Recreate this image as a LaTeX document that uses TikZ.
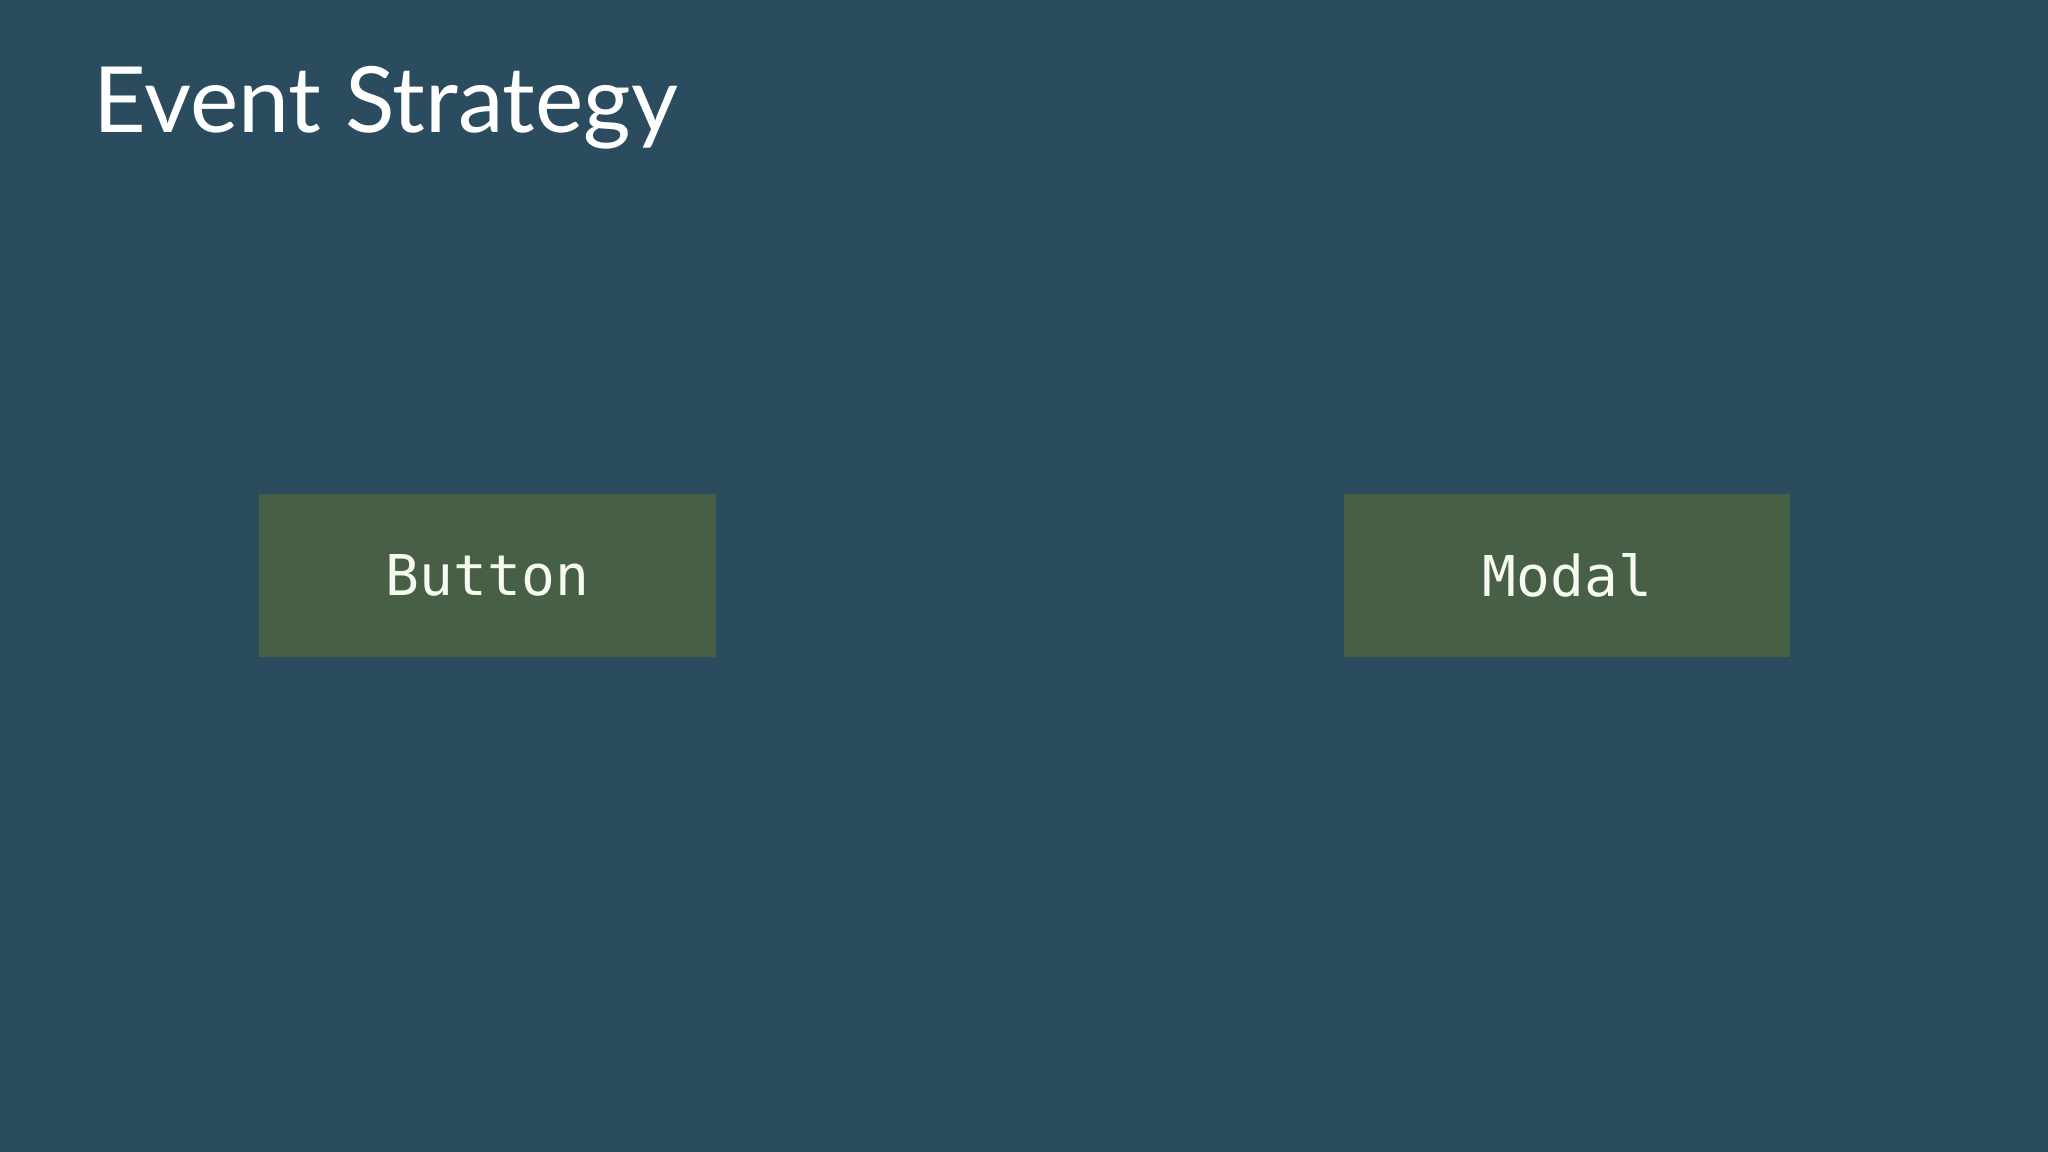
\documentclass[tikz,border=0pt]{standalone}
\usepackage{fontspec}
\setmainfont{Lato}
\setmonofont{DejaVu Sans Mono}
\usetikzlibrary{positioning}
\definecolor{SlideBlue}{RGB}{43, 76, 94}
\definecolor{BoxGreen}{RGB}{71, 95, 69}
\definecolor{TextCream}{RGB}{246, 250, 240}

\begin{document}
\begin{tikzpicture}[
    component/.style={fill=BoxGreen, minimum height=1.63cm, inner sep=0pt,
        text=TextCream, font=\ttfamily\fontsize{16}{18}\selectfont},
    node distance=6.27cm
  ]
  % Background
  \fill[SlideBlue] (0,0) rectangle (20.48,-11.52);
  \useasboundingbox (0,0) rectangle (20.48,-11.52);

  % Title
  \node[anchor=base west, inner sep=0pt, text=white, font=\fontsize{26}{30}\selectfont] (title) at (0.93,-1.33) {Event Strategy};

  % Components
  \node[component, minimum width=4.57cm] (button) at (4.875,-5.755) {Button};
  \node[component, minimum width=4.46cm, right=of button] (modal) {Modal};
\end{tikzpicture}
\end{document}
